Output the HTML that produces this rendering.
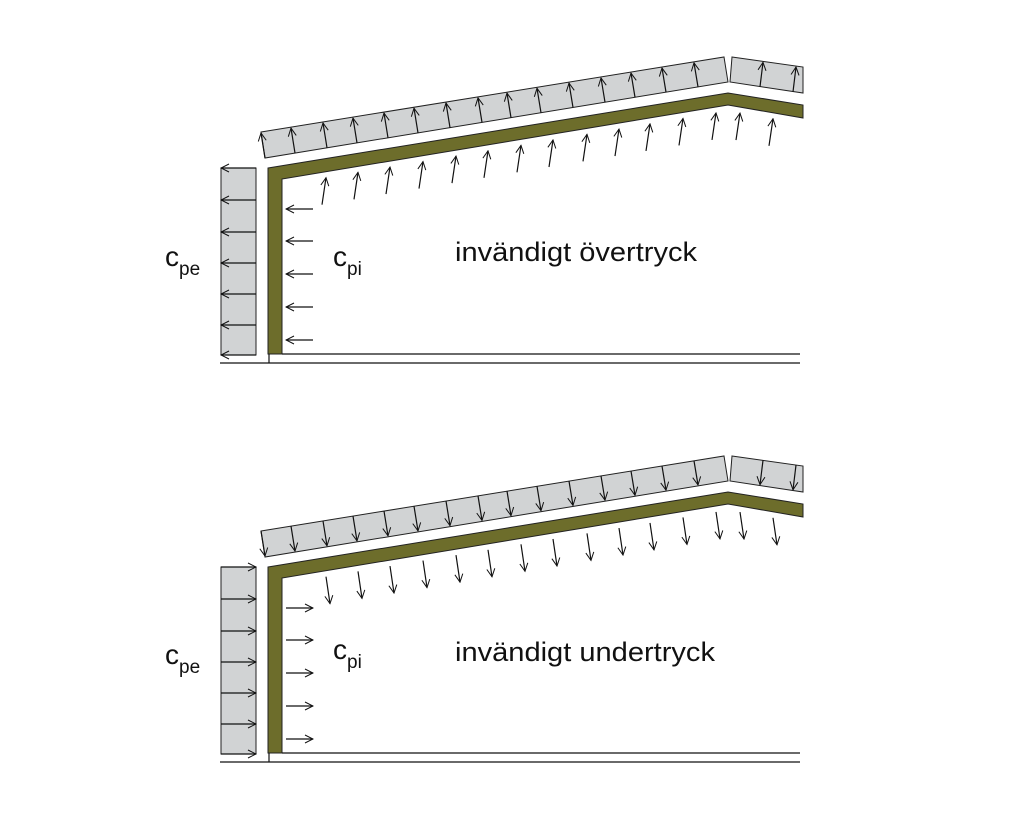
<!DOCTYPE html>
<html><head><meta charset="utf-8"><style>
html,body{margin:0;padding:0;background:#fff;}
svg{display:block;}
text{font-family:"Liberation Sans",Arial,sans-serif;fill:#111;}
</style></head><body>
<svg id="s" width="1024" height="819" viewBox="0 0 1024 819" xmlns="http://www.w3.org/2000/svg">
<defs>
<marker id="ah" markerWidth="10" markerHeight="10" refX="9" refY="5" orient="auto" markerUnits="userSpaceOnUse">
<path d="M1,1 L9,5 L1,9" fill="none" stroke="#111" stroke-width="1"/>
</marker>
</defs>
<g id="g1"></g>
<g id="g2" transform="translate(0,399)"></g>
<text x="165" y="266" font-size="28">c</text><text x="179" y="275" font-size="19">pe</text>
<text x="333" y="266" font-size="28">c</text><text x="347" y="275" font-size="19">pi</text>
<text x="455" y="261" font-size="27" textLength="242" lengthAdjust="spacingAndGlyphs">invändigt övertryck</text>
<text x="165" y="664" font-size="28">c</text><text x="179" y="673" font-size="19">pe</text>
<text x="333" y="659" font-size="28">c</text><text x="347" y="668" font-size="19">pi</text>
<text x="455" y="661" font-size="27" textLength="260" lengthAdjust="spacingAndGlyphs">invändigt undertryck</text>
</svg>
<script>
var NS="http://www.w3.org/2000/svg";
function el(g,t,a){var e=document.createElementNS(NS,t);for(var k in a)e.setAttribute(k,a[k]);g.appendChild(e);return e;}
function line(g,x1,y1,x2,y2,arrow){var a={x1:x1,y1:y1,x2:x2,y2:y2,stroke:"#111","stroke-width":1.2};if(arrow)a["marker-end"]="url(#ah)";el(g,"line",a);}
function build(g,up){
  el(g,"rect",{x:221,y:168,width:35,height:187,fill:"#d1d3d4",stroke:"#222","stroke-width":1});
  var ys=[168,200,232,263,294,325,355];
  for(var i=0;i<ys.length;i++){
    if(up) line(g,256,ys[i],221,ys[i],true); else line(g,221,ys[i],256,ys[i],true);
  }
  el(g,"polygon",{points:"268,168 728,93 803,105 803,118 728,105 282,179 282,354 268,354",fill:"#6d6d2b",stroke:"#222","stroke-width":1});
  line(g,282,354,800,354);line(g,220,363,800,363);line(g,269,354,269,363);
  el(g,"polygon",{points:"261,132 724,57 728,82 265,158",fill:"#d1d3d4",stroke:"#222","stroke-width":1});
  el(g,"polygon",{points:"732,57 803,67 803,93 730,82",fill:"#d1d3d4",stroke:"#222","stroke-width":1});
  function yb(x){return 158-0.1642*(x-265);} function yt(x){return 132-0.162*(x-261);}
  var xs=[265,295,327,357,388,418,450,482,511,541,573,605,635,666,698];
  for(var i=0;i<xs.length;i++){
    var x=xs[i],x2=x-4;
    if(up) line(g,x,yb(x),x2,yt(x2)+1,true); else line(g,x2,yt(x2),x,yb(x)-1,true);
  }
  function yb2(x){return 82+0.155*(x-730);} function yt2(x){return 57+0.141*(x-732);}
  [760,793].forEach(function(x){var x2=x+3; if(up) line(g,x,yb2(x),x2,yt2(x2)+1,true); else line(g,x2,yt2(x2),x,yb2(x)-1,true);});
  var ix=[326,358,390,423,456,488,521,553,587,619,650,683,716,740,773];
  for(var i=0;i<ix.length;i++){
    var x=ix[i],inner = x<=728 ? 179-0.166*(x-282) : 105+0.173*(x-728);
    var t=inner+6,b=inner+33;
    if(up) line(g,x-4,b,x,t,true); else line(g,x,t,x+4,b,true);
  }
  [209,241,274,307,340].forEach(function(y){ if(up) line(g,313,y,286,y,true); else line(g,286,y,313,y,true);});
}
build(document.getElementById("g1"),true);
build(document.getElementById("g2"),false);
</script>
</body></html>
